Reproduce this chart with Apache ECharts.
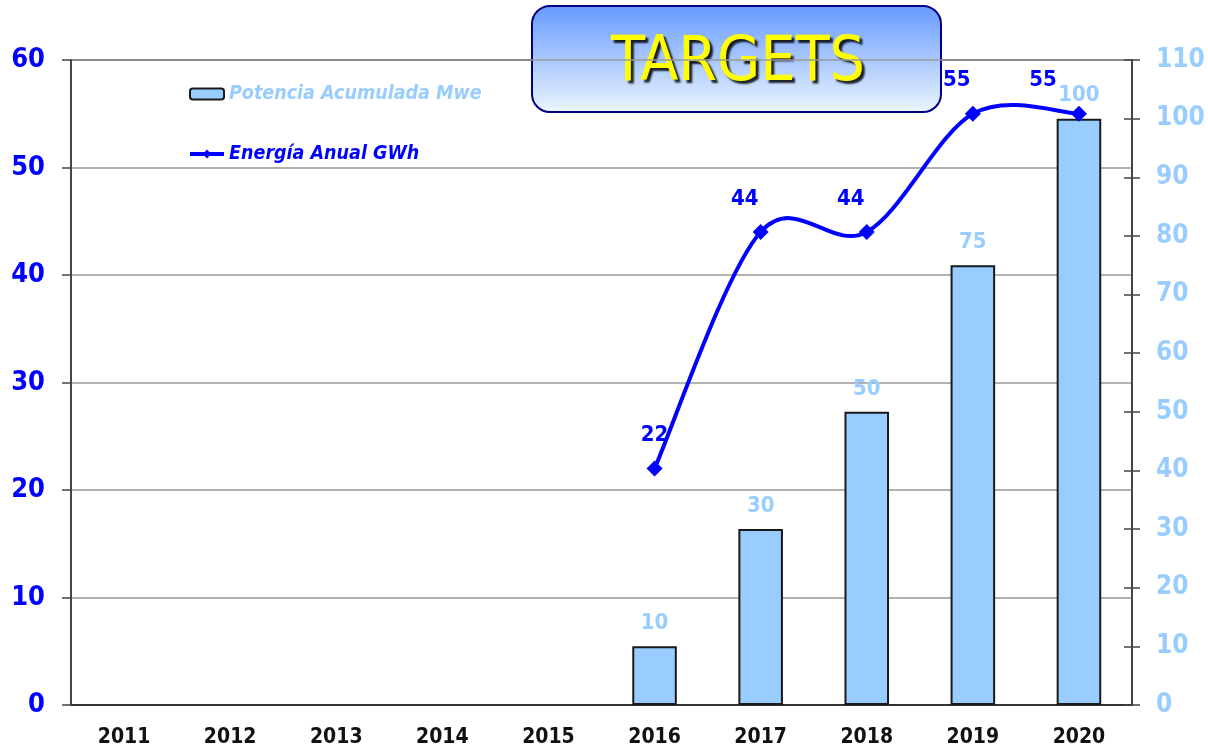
<!DOCTYPE html>
<html lang="es" style="height: 100%">
<head>
    <meta charset="utf-8">
    <title>Targets</title>
    <script src="https://cdn.jsdelivr.net/npm/echarts@6/dist/echarts.min.js"></script>
</head>
<body style="height: 100%; margin: 0; background: #fff">
<div id="main" style="width:1208px;height:750px"></div>
<script type="text/javascript">
    var years = ['2011', '2012', '2013', '2014', '2015', '2016', '2017', '2018', '2019', '2020'];
    var potencia = [null, null, null, null, null, 10, 30, 50, 75, 100];   // Mwe, eje derecho
    var energia = [null, null, null, null, null, 22, 44, 44, 55, 55];     // GWh, eje izquierdo
    var barName = 'Potencia Acumulada Mwe';
    var lineName = 'Energía Anual GWh';

    var FONT = '"DejaVu Sans Condensed", "DejaVu Sans", sans-serif';
    var chart = echarts.init(document.getElementById('main'));

    // etiquetas de la línea desplazadas a la izquierda como en Excel
    function lineLabelShift(i, n) {
        if (i === n - 1) return -36;
        if (i === 5) return 0;
        return -16;
    }

    // curva suavizada tipo Excel (Catmull-Rom -> Bezier), sin recorte de sobrepaso
    function renderSmooth(params, api) {
        var pts = [];
        for (var i = 0; i < energia.length; i++) {
            if (energia[i] == null) continue;
            pts.push(api.coord([i, energia[i]]));
        }
        if (pts.length < 2) return null;
        var d = 'M' + pts[0][0] + ' ' + pts[0][1];
        for (var k = 0; k < pts.length - 1; k++) {
            var p0 = pts[k - 1] || pts[k];
            var p1 = pts[k];
            var p2 = pts[k + 1];
            var p3 = pts[k + 2] || pts[k + 1];
            var c1x = p1[0] + (p2[0] - p0[0]) / 6, c1y = p1[1] + (p2[1] - p0[1]) / 6;
            var c2x = p2[0] - (p3[0] - p1[0]) / 6, c2y = p2[1] - (p3[1] - p1[1]) / 6;
            d += ' C' + c1x + ' ' + c1y + ' ' + c2x + ' ' + c2y + ' ' + p2[0] + ' ' + p2[1];
        }
        return {
            type: 'path',
            shape: { pathData: d },
            style: { fill: null, stroke: '#0000ff', lineWidth: 4, lineJoin: 'round' }
        };
    }

    var option = {
        backgroundColor: '#fff',
        animation: false,
        grid: {
            left: 71, right: 76, top: 60, bottom: 45,
            show: true, borderColor: '#333', borderWidth: 1.5
        },
        legend: {
            orient: 'vertical',
            left: 183, top: 79,
            itemWidth: 34, itemHeight: 11, itemGap: 40,
            textStyle: { fontFamily: FONT, fontSize: 19.5, fontStyle: 'italic', fontWeight: 'bold' },
            data: [
                { name: barName, textStyle: { color: '#99ccff' } },
                { name: lineName, textStyle: { color: '#0000ff' }, lineStyle: { color: '#0000ff', width: 4, opacity: 1 } }
            ]
        },
        xAxis: {
            type: 'category',
            data: years,
            axisLine: { lineStyle: { color: '#333', width: 2 } },
            axisTick: { length: 8, lineStyle: { color: '#555', width: 1.5 } },
            axisLabel: { color: '#111', fontFamily: FONT, fontSize: 21, fontWeight: 'bold', margin: 22 }
        },
        yAxis: [
            {
                type: 'value', min: 0, max: 60, interval: 10, position: 'left',
                axisLine: { show: true, lineStyle: { color: '#444', width: 2 } },
                axisTick: { show: true, length: 9, lineStyle: { color: '#444', width: 1.5 } },
                axisLabel: { color: '#0000ff', fontFamily: FONT, fontSize: 27, fontWeight: 'bold', margin: 26 },
                splitLine: { lineStyle: { color: '#999', width: 1.5 } }
            },
            {
                type: 'value', min: 0, max: 110, interval: 10, position: 'right',
                axisLine: { show: true, lineStyle: { color: '#444', width: 2 } },
                axisTick: { show: true, length: 8, lineStyle: { color: '#444', width: 1.5 } },
                axisLabel: { color: '#99ccff', fontFamily: FONT, fontSize: 26, fontWeight: 'bold', margin: 24 },
                splitLine: { show: false }
            },
            {
                // marcas interiores del eje derecho
                type: 'value', min: 0, max: 110, interval: 10, position: 'right',
                axisLine: { show: false },
                axisTick: { show: true, inside: true, length: 8, lineStyle: { color: '#444', width: 1.5 } },
                axisLabel: { show: false },
                splitLine: { show: false }
            }
        ],
        series: [
            {
                name: barName,
                type: 'bar',
                yAxisIndex: 1,
                data: potencia,
                barWidth: '42%',
                itemStyle: { color: '#99ccff', borderColor: '#1a1a1a', borderWidth: 2 },
                label: {
                    show: true, position: 'top', distance: 12,
                    color: '#99ccff', fontFamily: FONT, fontSize: 22, fontWeight: 'bold'
                }
            },
            {
                type: 'custom',
                yAxisIndex: 0,
                data: [[0, 0]],
                renderItem: renderSmooth,
                silent: true,
                z: 4
            },
            {
                name: lineName,
                type: 'line',
                yAxisIndex: 0,
                data: energia.map(function (v, i) {
                    return { value: v, label: { offset: [lineLabelShift(i, energia.length), 0] } };
                }),
                symbol: 'diamond',
                symbolSize: 16,
                lineStyle: { color: '#0000ff', width: 4, opacity: 0 },
                itemStyle: { color: '#0000ff' },
                label: {
                    show: true, position: 'top', distance: 14,
                    color: '#0000ff', fontFamily: FONT, fontSize: 22, fontWeight: 'bold'
                },
                z: 5
            }
        ],
        graphic: [
            {
                type: 'group',
                left: 531, top: 5,
                z: 100,
                children: [
                    {
                        type: 'rect',
                        shape: { x: 0, y: 0, width: 409, height: 106, r: 18 },
                        style: {
                            fill: new echarts.graphic.LinearGradient(0, 0, 0, 1, [
                                { offset: 0, color: '#6699ff' },
                                { offset: 1, color: '#ecf6fd' }
                            ]),
                            stroke: '#000080',
                            lineWidth: 2
                        }
                    },
                    {
                        type: 'text',
                        x: 206, y: 58,
                        style: {
                            text: 'TARGETS',
                            fill: '#ffff00',
                            font: '62px "DejaVu Sans Condensed", "DejaVu Sans", sans-serif',
                            align: 'center',
                            verticalAlign: 'middle',
                            textShadowColor: 'rgba(0,0,0,0.85)',
                            textShadowOffsetX: 3,
                            textShadowOffsetY: 3,
                            textShadowBlur: 2
                        }
                    }
                ]
            }
        ]
    };
    chart.setOption(option);
</script>
</body>
</html>
